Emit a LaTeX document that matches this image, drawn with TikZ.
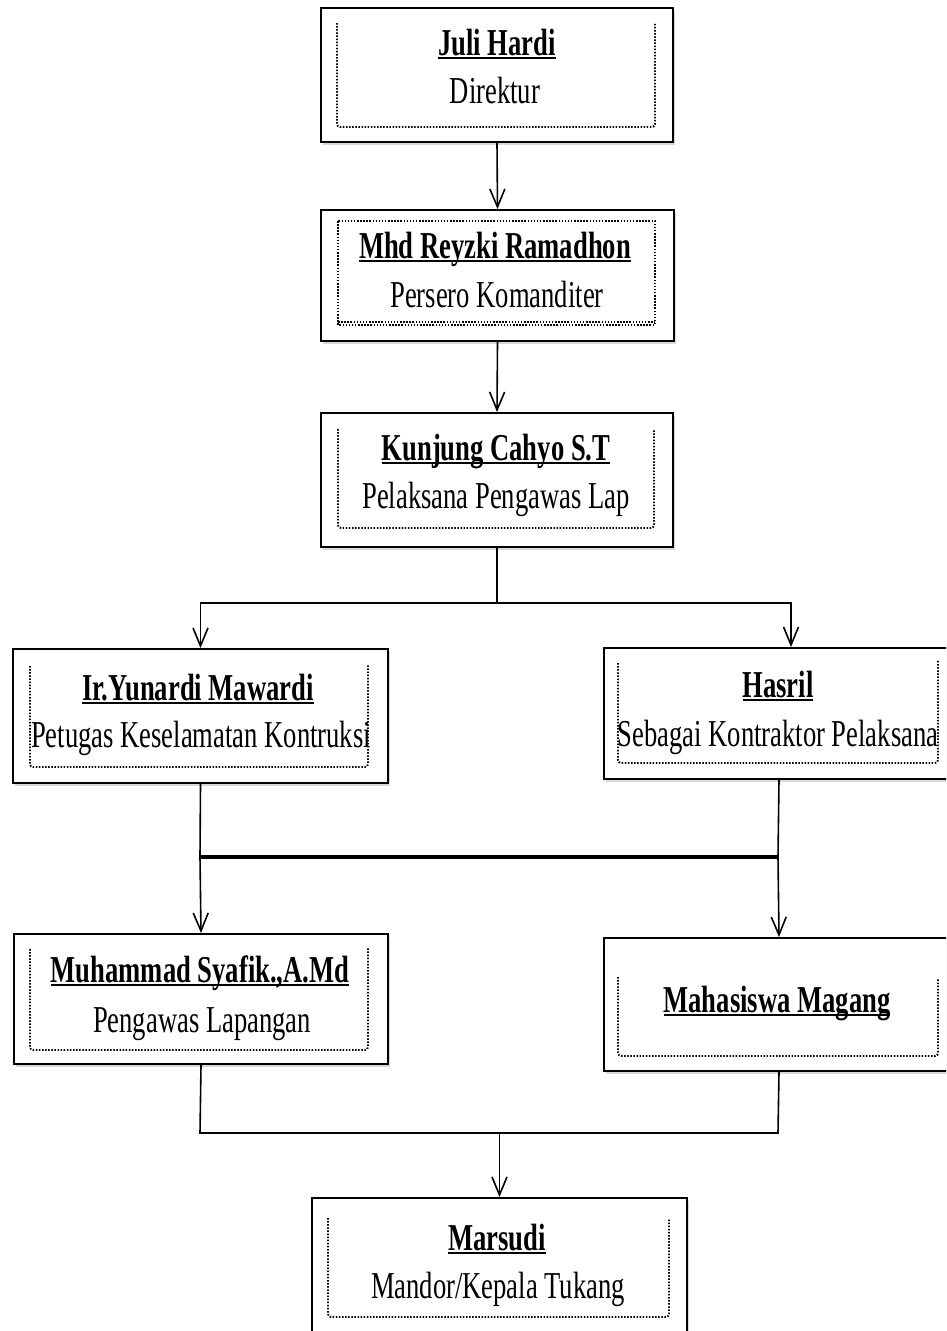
\documentclass[tikz,border=0pt]{standalone}
\usepackage{fontspec}
\setmainfont[FakeStretch=0.7]{Liberation Serif}
\usepackage{tikz}
\usetikzlibrary{arrows.meta,shadows}
\newcommand{\ulname}[1]{\setbox0\hbox{#1}\rlap{\rule[-4pt]{\wd0}{1.6pt}}\box0}

\begin{document}
\begin{tikzpicture}[x=1pt,y=-1pt,
        orgbox/.style={draw,line width=2pt,fill=white,anchor=north west,inner sep=0pt,
            drop shadow={shadow xshift=2pt,shadow yshift=-3pt,fill=black!30}},
        dotfrm/.style={line width=1.9pt,dash pattern=on 1.5pt off 1.6pt,rounded corners=3pt},
        namelbl/.style={anchor=base,inner sep=0pt,font=\fontsize{38}{44}\selectfont\bfseries},
        joblbl/.style={anchor=base,inner sep=0pt,font=\fontsize{38}{44}\selectfont},
        conn/.style={line width=1.6pt},
        arr/.style={conn,-{Straight Barb[length=18pt,width=15pt]}}]
        \useasboundingbox (0,0) rectangle (946,1331);
        \clip (0,0) rectangle (946,1331);

        \node[orgbox,minimum width=352pt,minimum height=134pt] (dir) at (320,7) {};
        \node[orgbox,minimum width=353pt,minimum height=131pt] (kom) at (320,209) {};
        \node[orgbox,minimum width=352pt,minimum height=134pt] (pel) at (320,412) {};
        \node[orgbox,minimum width=375pt,minimum height=134pt] (yun) at (12,648) {};
        \node[orgbox,minimum width=362pt,minimum height=131pt] (has) at (603,647) {};
        \node[orgbox,minimum width=374pt,minimum height=130pt] (syf) at (13,933) {};
        \node[orgbox,minimum width=362pt,minimum height=133pt] (mhs) at (603,937) {};
        \node[orgbox,minimum width=375pt,minimum height=150pt] (mar) at (311,1197) {};

        \draw[dotfrm] (337,23) -- (337,127) -- (655,127) -- (655,23);
        \draw[dotfrm,rounded corners=0pt] (338,221) rectangle (655,325);
        \draw[dotfrm,rounded corners=0pt] (338,322) -- (655,322);
        \draw[dotfrm] (338,429) -- (338,528) -- (654,528) -- (654,429);
        \draw[dotfrm] (30,666) -- (30,767) -- (368,767) -- (368,664);
        \draw[dotfrm] (618,663) -- (618,763) -- (938,763) -- (938,660);
        \draw[dotfrm] (30,949) -- (30,1050) -- (368,1050) -- (368,947);
        \draw[dotfrm] (618,977) -- (618,1056) -- (938,1056) -- (938,979);
        \draw[dotfrm] (328,1218) -- (328,1317) -- (669,1317) -- (669,1218);

        \node[namelbl] (juli) at (497,55) {\ulname{Juli Hardi}};
        \node[joblbl] (direktur) at (495,103) {Direktur};
        \node[namelbl] (reyzki) at (495,258) {\ulname{Mhd Reyzki Ramadhon}};
        \node[joblbl] (persero) at (497,307) {Persero Komanditer};
        \node[namelbl] (kunjung) at (496,460) {\ulname{Kunjung Cahyo S.T}};
        \node[joblbl] (pelaksana) at (496,508) {Pelaksana Pengawas Lap};
        \node[namelbl] (yunardi) at (198,700) {\ulname{Ir.Yunardi Mawardi}};
        \node[joblbl] (petugas) at (201,747) {Petugas Keselamatan Kontruksi};
        \node[namelbl] (hasril) at (778,697) {\ulname{Hasril}};
        \node[joblbl] (kontraktor) at (778,746) {Sebagai Kontraktor Pelaksana};
        \node[namelbl] (syafik) at (200,982) {\ulname{Muhammad Syafik.,A.Md}};
        \node[joblbl] (pengawas) at (202,1032) {Pengawas Lapangan};
        \node[namelbl] (magang) at (777,1012) {\ulname{Mahasiswa Magang}};
        \node[namelbl] (marsudi) at (497,1250) {\ulname{Marsudi}};
        \node[joblbl] (mandor) at (498,1298) {Mandor/Kepala Tukang};

        \draw[arr] (dir.south) -- (kom.north);
        \draw[arr] (kom.south) -- (pel.north);
        \draw[conn] (pel.south) -- ++(0,55) coordinate (brA);
        \draw[arr] (brA) -| (yun.north);
        \draw[arr] (brA) -| ([xshift=6pt]has.north);
        \coordinate (mL) at (200,857);
        \coordinate (mR) at (778,857);
        \draw[conn] (yun.south) -- (mL);
        \draw[conn] ([xshift=-6pt]has.south) -- (mR);
        \draw[line width=4pt] (mL) -- (mR);
        \draw[arr] (mL) -- (syf.north);
        \draw[arr] (mR) -- ([xshift=-6pt]mhs.north);
        \coordinate (bL) at (200,1133);
        \coordinate (bR) at (778,1133);
        \draw[conn] (syf.south) -- (bL) -- (bR) -- ([xshift=-6pt]mhs.south);
        \draw[arr] (bL -| mar.north) -- (mar.north);
\end{tikzpicture}
\end{document}
